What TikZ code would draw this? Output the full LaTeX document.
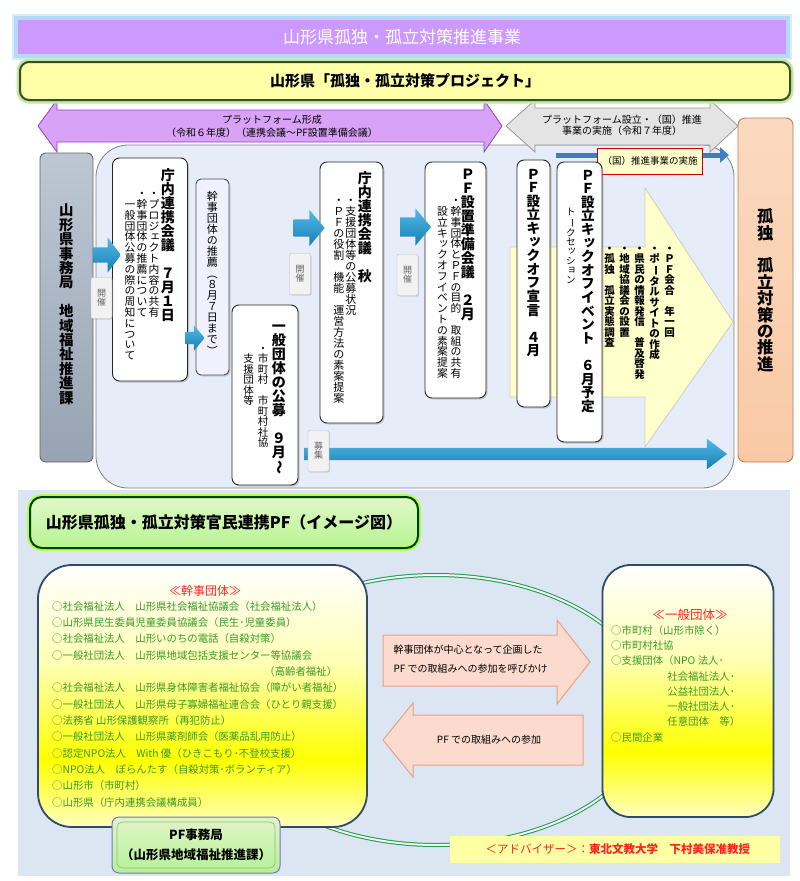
\documentclass[tikz,border=0pt]{standalone}
\usepackage{fontspec}
\usepackage{graphicx}
\setmainfont{Noto Sans CJK JP}
\usetikzlibrary{calc,positioning,shapes.arrows,shadows,arrows.meta}

\newcommand{\jfs}[2]{\fontsize{#1}{#2}\selectfont}

% vertical writing: one column per \tcol
\makeatletter
\newcommand{\tcol}[1]{\vtop{\offinterlineskip\tt@next#1\@nil}}
\def\tt@next#1{\ifx#1\@nil\else\tt@char{#1}\expandafter\tt@next\fi}
\def\tt@char#1{\hbox to 1em{\vrule height.88em depth.12em width0pt\hss
  \in@{#1}{ー（）～}%
  \ifin@\rotatebox[origin=c]{-90}{#1}\else
    \in@{#1}{ッョェャュィ}%
    \ifin@\raisebox{.12em}{\kern.12em#1\kern-.12em}\else#1\fi
  \fi\hss}}
\makeatother

\definecolor{titlepurple}{HTML}{CC99FF}
\definecolor{glowblue}{HTML}{B4DAF8}
\definecolor{projyellow}{HTML}{FFFFA8}
\definecolor{projgreen}{HTML}{34502A}
\definecolor{glowgreen}{HTML}{C6E6A0}
\definecolor{arrowpurple}{HTML}{D8A2F6}
\definecolor{purpleline}{HTML}{9A3CCC}
\definecolor{arrowgray}{HTML}{E4E4E4}
\definecolor{panelblue}{HTML}{E6EDF8}
\definecolor{graybox}{HTML}{A8B5C6}
\definecolor{flowblue}{HTML}{1BA0E0}
\definecolor{kuniblue}{HTML}{3F7FC0}
\definecolor{peach}{HTML}{F9C9A5}
\definecolor{peachline}{HTML}{C07A4A}
\definecolor{paleyellow}{HTML}{FFFFCC}
\definecolor{bottombg}{HTML}{DCE6F2}
\definecolor{headgreen}{HTML}{CCF3A2}
\definecolor{ringgreen}{HTML}{1F9A48}
\definecolor{navyline}{HTML}{2F4A6A}
\definecolor{listgreen}{HTML}{3A9A2A}
\definecolor{alertred}{HTML}{FF2424}
\definecolor{pink}{HTML}{FCDACE}
\definecolor{pinkline}{HTML}{E8A088}
\definecolor{officegreen}{HTML}{D4F0B0}

\pgfdeclareverticalshading{dantai}{100bp}{color(0bp)=(yellow!25); color(25bp)=(yellow!25); color(38bp)=(yellow); color(56bp)=(yellow!30); color(75bp)=(white); color(100bp)=(white)}

\tikzset{
  tate/.style={anchor=north east, inner sep=0pt},
  panel/.style={draw=black!50, fill=panelblue, rounded corners=32, line width=.8pt},
  kaigi/.style={draw=black!85, fill=white, rounded corners=7, line width=.9pt,
    drop shadow={shadow xshift=1.5pt, shadow yshift=-1.5pt, opacity=.35}},
  kaisai/.style={draw=black!25, fill=black!5, rounded corners=2, inner sep=0pt,
    minimum width=21, minimum height=41, text=black!60, font=\jfs{9}{9},
    drop shadow={shadow xshift=1pt, shadow yshift=-1pt, opacity=.3}},
  flow/.style={single arrow, inner xsep=0pt, top color=flowblue!75!white, bottom color=flowblue!80!black},
  pinkarrow/.style={draw=pinkline, fill=pink, line width=1pt},
  dantaibox/.style={draw=navyline, line width=1.8pt, shading=dantai},
  ringline/.style={draw=ringgreen, line width=1pt, double=white!60!bottombg, double distance=2pt}
}

\begin{document}
\begin{tikzpicture}[x=1pt,y=-1pt]
\useasboundingbox (0,0) rectangle (800,881);

% title band
\node[draw=glowblue, line width=4pt, fill=titlepurple, minimum width=772, minimum height=38,
  inner sep=0pt, text=white, font=\jfs{17}{17},
  preaction={draw=glowblue!50, line width=8pt}] (jigyo) at (402,37) {山形県孤独・孤立対策推進事業};

% panel
\node[panel, minimum width=638, minimum height=343] (panel) at (415,316.5) {};

% platform arrows
\path[draw=purpleline, fill=arrowpurple, line width=.8pt]
  (38,126) -- (57,100) -- (57,110) -- (484,110) -- (484,100) -- (502,126)
  -- (484,152) -- (484,142) -- (57,142) -- (57,152) -- cycle;
\node[align=center, font=\jfs{10}{13}] (keisei) at (272,126)
  {プラットフォーム形成\\（令和６年度）（連携会議～PF設置準備会議）};
\path[draw=black!40, fill=arrowgray, line width=.8pt]
  (506,126) -- (535,100) -- (535,108) -- (710,108) -- (710,100) -- (738,126)
  -- (710,152) -- (710,145) -- (535,145) -- (535,152) -- cycle;
\node[align=center, font=\jfs{10}{11}] (setsuritsu) at (622,125)
  {プラットフォーム設立・（国）推進\\事業の実施（令和７年度）};

% project band
\node[draw=projgreen, line width=2pt, rounded corners=9, fill=projyellow, minimum width=770,
  minimum height=38, inner sep=0pt, font=\bfseries\jfs{15}{15},
  preaction={draw=glowgreen, line width=7pt, rounded corners=9}] (project) at (405,81)
  {山形県「孤独・孤立対策プロジェクト」};

% big yellow arrow
\path[draw=black!20, fill=paleyellow, line width=.8pt]
  (510,247) -- (645,247) -- (645,188) -- (733,322) -- (645,447) -- (645,397) -- (510,397) -- cycle;
\node[tate, font=\bfseries\jfs{10.5}{10.5}] (katsudo) at (675,243)
  {\tcol{・孤独　孤立実態調査}\hspace{4.5pt}\tcol{・地域協議会の設置}\hspace{4.5pt}\tcol{・県民の情報発信　普及啓発}\hspace{4.5pt}\tcol{・ポータルサイトの作成}\hspace{4.5pt}\tcol{・ＰＦ会合　年一回}};

% kuni arrow
\coordinate (kuniStart) at (556,155);
\coordinate (kuniEnd) at (729,155);
\draw[kuniblue, line width=5pt, -{Triangle[width=15pt, length=9pt]}] (kuniStart) -- (kuniEnd);
\node[draw=red!80!black, line width=1pt, fill=paleyellow, minimum width=105, minimum height=26,
  inner sep=0pt, font=\jfs{9.5}{9.5}] (kuni) at (650,161) {（国）推進事業の実施};

% office
\node[draw=black!60, line width=.9pt, rounded corners=6, top color=graybox!75!white,
  bottom color=graybox!90!black, minimum width=53, minimum height=309] (jimukyoku) at (66.5,307.5) {};
\node[tate, font=\bfseries\jfs{14.4}{14.4}] (jimukyokuText) at (73.7,203) {\tcol{山形県事務局　地域福祉推進課}};

% bottom flow arrow
\node[flow, minimum height=423, inner ysep=6pt, single arrow head extend=9pt,
  single arrow tip angle=74] (boshuArrow) at (511.5,454) {};

% meetings
\node[kaigi, minimum width=75, minimum height=223] (renkei1) at (150,269.5) {};
\node[tate, font=\bfseries\jfs{14}{14}] (renkei1Title) at (175,168) {\tcol{庁内連携会議　７月１日}};
\node[tate, font=\jfs{10.8}{10.8}] (renkei1Body) at (159.5,188)
  {\tcol{　一般団体公募の際の周知について}\hspace{1.2pt}\tcol{・幹事団体の推薦について}\hspace{1.2pt}\tcol{・プロジェクト内容の共有}};

\node[draw=black!70, line width=.9pt, rounded corners=5, fill=panelblue!60!blue!12,
  minimum width=33, minimum height=196,
  drop shadow={shadow xshift=1.5pt, shadow yshift=-1.5pt, opacity=.3}] (suisen) at (212.5,277) {};
\node[tate, font=\jfs{11}{11}] (suisenText) at (218,191) {\tcol{幹事団体の推薦（８月７日まで）}};

\node[kaigi, minimum width=66, minimum height=180] (kobo) at (265,395) {};
\node[tate, font=\bfseries\jfs{14}{14}] (koboTitle) at (286,319) {\tcol{一般団体の公募　９月～}};
\node[tate, font=\jfs{10.5}{10.5}] (koboBody) at (268.5,343) {\tcol{　支援団体等}\hspace{4pt}\tcol{・市町村　市町村社協}};

\node[kaigi, minimum width=63, minimum height=261] (renkei2) at (351.5,292.5) {};
\node[tate, font=\bfseries\jfs{14}{14}] (renkei2Title) at (372,171) {\tcol{庁内連携会議　秋}};
\node[tate, font=\jfs{11}{11}] (renkei2Body) at (356.5,195)
  {\tcol{・ＰＦの役割　機能　運営方法の素案提案}\hspace{1pt}\tcol{・支援団体等の公募状況}};

\node[kaigi, minimum width=61, minimum height=236] (junbi) at (455.5,280) {};
\node[tate, font=\bfseries\jfs{14}{14}] (junbiTitle) at (475,167) {\tcol{ＰＦ設置準備会議　２月}};
\node[tate, font=\jfs{10.8}{10.8}] (junbiBody) at (461.5,195)
  {\tcol{　設立キックオフイベントの素案提案}\hspace{2.7pt}\tcol{・幹事団体とＰＦの目的　取組の共有}};

\node[kaigi, minimum width=33, minimum height=247] (sengen) at (533.5,283.5) {};
\node[tate, font=\bfseries\jfs{13.6}{13.6}] (sengenText) at (540.3,167) {\tcol{ＰＦ設立キックオフ宣言　４月}};

\node[kaigi, minimum width=45, minimum height=280] (event) at (579.5,302) {};
\node[tate, font=\bfseries\jfs{13.6}{13.6}] (eventTitle) at (594.8,168) {\tcol{ＰＦ設立キックオフイベント　６月予定}};
\node[tate, font=\jfs{9.5}{9.5}] (eventBody) at (575.8,207) {\tcol{トークセッション}};

% goal
\node[draw=peachline, line width=.9pt, rounded corners=7, top color=peach!70!white,
  bottom color=peach, minimum width=55, minimum height=344] (suishin) at (765.5,290) {};
\node[tate, font=\bfseries\jfs{16.4}{16.4}] (suishinText) at (773.7,208) {\tcol{孤独　孤立対策の推進}};

% flow arrows and labels
\node[flow, minimum height=28, inner ysep=7.5pt, single arrow head extend=10pt,
  single arrow tip angle=106] (arrowA) at (104,255) {};
\node[flow, minimum height=19, inner ysep=6pt, single arrow head extend=6.5pt,
  single arrow tip angle=100] (arrowB) at (192.5,338) {};
\node[flow, minimum height=31, inner ysep=8.5pt, single arrow head extend=9.5pt,
  single arrow tip angle=100] (arrowC) at (305.5,228) {};
\node[flow, minimum height=31, inner ysep=9.5pt, single arrow head extend=9pt,
  single arrow tip angle=100] (arrowD) at (411.5,227) {};
\node[kaisai] (kaisai1) at (101.5,298) {\tcol{開催}};
\node[kaisai] (kaisai2) at (300,274) {\tcol{開催}};
\node[kaisai] (kaisai3) at (407.5,275) {\tcol{開催}};
\node[kaisai] (boshu) at (318.5,451) {\tcol{募集}};

% ---- image of the platform ----
\fill[bottombg] (18,490) rectangle (790,876);
\node[draw=black!75!green, line width=2pt, rounded corners=12, top color=headgreen!60!white,
  bottom color=headgreen!90!green, minimum width=388, minimum height=51, inner sep=0pt,
  font=\bfseries\jfs{16}{16}, preaction={draw=green!45!yellow!70, line width=6pt, rounded corners=12}]
  (image) at (224,522.5) {山形県孤独・孤立対策官民連携PF（イメージ図）};

% ring
\draw[ringline] (436,710) ellipse [x radius=216, y radius=135];

% pink arrows
\path[pinkarrow] (383,635) -- (557,635) -- (557,620) -- (590,662) -- (557,704) -- (557,686) -- (383,686) -- cycle;
\node[anchor=west, align=left, font=\jfs{10}{18.5}] (yobikake) at (390,659)
  {幹事団体が中心となって企画した\\PF での取組みへの参加を呼びかけ};
\path[pinkarrow] (583,715) -- (413,715) -- (413,703) -- (383,740) -- (413,777) -- (413,765) -- (583,765) -- cycle;
\node[font=\jfs{10}{10}] (sanka) at (489,740) {PF での取組みへの参加};

% kanji dantai
\node[dantaibox, rounded corners=34, minimum width=329, minimum height=262] (kanji) at (202.5,696) {};
\node[text=alertred, font=\jfs{12}{12}] (kanjiTitle) at (205,591) {≪幹事団体≫};
\node[anchor=north west, inner sep=0pt, align=left, text=listgreen, font=\jfs{10.4}{16.35}] (kanjiList) at (52,601)
  {○社会福祉法人　山形県社会福祉協議会（社会福祉法人）\\
   ○山形県民生委員児童委員協議会（民生･児童委員）\\
   ○社会福祉法人　山形いのちの電話（自殺対策）\\
   ○一般社団法人　山形県地域包括支援センター等協議会\\
   \hspace*{20.4em}（高齢者福祉）\\
   ○社会福祉法人　山形県身体障害者福祉協会（障がい者福祉）\\
   ○一般社団法人　山形県母子寡婦福祉連合会（ひとり親支援）\\
   ○法務省 山形保護観察所（再犯防止）\\
   ○一般社団法人　山形県薬剤師会（医薬品乱用防止）\\
   ○認定NPO法人　With 優（ひきこもり･不登校支援）\\
   ○NPO法人　ぽらんたす（自殺対策･ボランティア）\\
   ○山形市（市町村）\\
   ○山形県（庁内連携会議構成員）};

% ippan dantai
\node[dantaibox, rounded corners=28, minimum width=171, minimum height=252] (ippan) at (688,691) {};
\node[text=alertred, font=\jfs{12.5}{12.5}] (ippanTitle) at (690,615) {≪一般団体≫};
\node[anchor=north west, inner sep=0pt, align=left, text=listgreen, font=\jfs{10.4}{15.3}] (ippanList) at (611,625)
  {○市町村（山形市除く）\\
   ○市町村社協\\
   ○支援団体（NPO 法人･\\
   \hspace*{5.4em}社会福祉法人･\\
   \hspace*{5.4em}公益社団法人･\\
   \hspace*{5.4em}一般社団法人･\\
   \hspace*{5.4em}任意団体　等）\\
   ○民間企業};

% office of PF
\node[draw=black!40!blue!55, line width=1pt, rounded corners=7, top color=officegreen!70!white,
  bottom color=officegreen!85!green, minimum width=168, minimum height=56] (pfOffice) at (196,845) {};
\node[draw=black!25!officegreen, line width=.6pt, rounded corners=5, minimum width=158, minimum height=46,
  align=center, font=\bfseries\jfs{12.5}{19.5}] (pfOfficeText) at (pfOffice.center)
  {PF事務局\\（山形県地域福祉推進課）};

% adviser
\node[fill=paleyellow!80!yellow, minimum width=330, minimum height=27, inner sep=0pt] (adviser) at (615,849) {};
\node[anchor=west, text=alertred, font=\jfs{11.5}{11.5}] (adviserText) at (482,849)
  {＜アドバイザー＞：{\bfseries 東北文教大学　下村美保准教授}};
\end{tikzpicture}
\end{document}
